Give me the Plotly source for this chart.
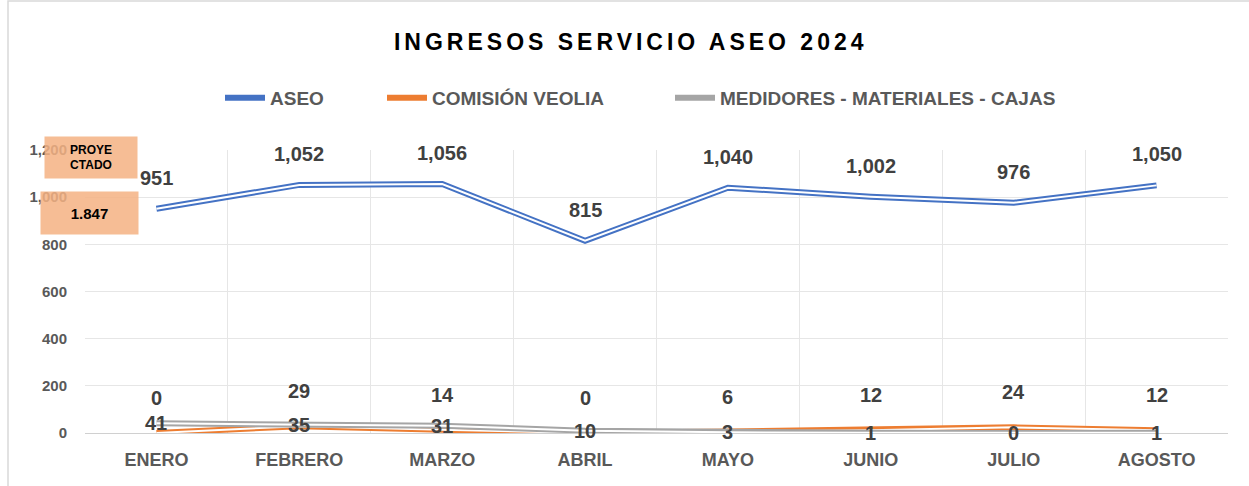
import plotly.graph_objects as go

months = ["ENERO", "FEBRERO", "MARZO", "ABRIL", "MAYO", "JUNIO", "JULIO", "AGOSTO"]
aseo = [951, 1052, 1056, 815, 1040, 1002, 976, 1050]
comision = [0, 29, 14, 0, 6, 12, 24, 12]
medidores = [41, 35, 31, 10, 3, 1, 0, 1]
y_ticks = [0, 200, 400, 600, 800, 1000, 1200]

series = [
    ("ASEO", aseo, "#4472C4", 31, "legend", 220),
    ("COMISIÓN VEOLIA", comision, "#ED7D31", 35, "legend2", 382),
    ("MEDIDORES - MATERIALES - CAJAS", medidores, "#A5A5A5", 0, "legend3", 670),
]

FONT = "Liberation Sans, Arial, sans-serif"
PL, PR, PT, PB = 85, 21, 150, 53
W, H = 1249, 486
pw = W - PL - PR
ph = H - PT - PB

fig = go.Figure()
for name, vals, color, _, lg, _ in series:
    fig.add_trace(go.Scatter(x=months, y=vals, name=name, mode="lines", legend=lg,
                             line=dict(color=color, width=6), legendgroup=name))
    fig.add_trace(go.Scatter(x=months, y=vals, mode="lines", showlegend=False,
                             hoverinfo="skip", line=dict(color="white", width=2),
                             legendgroup=name, legend=lg))

annotations = []
for name, vals, color, shift, _, _ in series:
    for m, v in zip(months, vals):
        annotations.append(dict(x=m, y=v, text=f"{v:,}", showarrow=False, yshift=shift,
                                font=dict(family=FONT, size=20, color="#404040", weight="bold")))

annotations.append(dict(xref="paper", yref="paper", x=0.005, y=0.975, xanchor="center", yanchor="middle",
                        text="PROYE<br>CTADO", showarrow=False, bgcolor="rgba(244,177,131,0.85)",
                        width=92, height=41, borderpad=0,
                        font=dict(family=FONT, size=12, color="black", weight="bold")))
annotations.append(dict(xref="paper", yref="paper", x=0.004, y=0.777, xanchor="center", yanchor="middle",
                        text="1.847", showarrow=False, bgcolor="rgba(244,177,131,0.85)",
                        width=97, height=42, borderpad=0,
                        font=dict(family=FONT, size=15, color="black", weight="bold")))

legend_font = dict(family=FONT, size=19, color="#595959", weight="bold")
legends = {}
for name, _, _, _, lg, px in series:
    legends[lg] = dict(orientation="h", x=(px - PL) / pw, xanchor="left",
                       y=(H - PB - 98) / ph, yanchor="middle", font=legend_font,
                       itemwidth=40, bgcolor="rgba(0,0,0,0)")

fig.update_layout(
    width=W, height=H,
    margin=dict(l=PL, r=PR, t=PT, b=PB),
    paper_bgcolor="white", plot_bgcolor="white",
    title=dict(text="INGRESOS SERVICIO ASEO 2024", x=0.505, xanchor="center",
               y=1 - 42 / H, yref="container", yanchor="middle",
               font=dict(family=FONT, size=23, color="black", weight="bold")),
    annotations=annotations,
    showlegend=True,
    **legends,
)
fig.update_xaxes(type="category", range=[-0.5, 7.5], tickson="boundaries", showgrid=True,
                 gridcolor="#E6E6E6", gridwidth=1, ticks="", showline=False, zeroline=False,
                 ticklabelstandoff=14,
                 tickfont=dict(family=FONT, size=18, color="#595959", weight="bold"))
fig.update_yaxes(range=[0, 1200], tickvals=y_ticks, tickformat=",", showgrid=True,
                 gridcolor="#E6E6E6", gridwidth=1, zeroline=True, zerolinecolor="#D0D0D0",
                 zerolinewidth=1, ticks="", showline=False, ticklabelstandoff=17,
                 tickfont=dict(family=FONT, size=15, color="#595959", weight="bold"))

fig.add_shape(type="rect", xref="paper", yref="paper", x0=(8 - PL) / pw, x1=1.2, y0=-0.3,
              y1=(H - PB - 1) / ph,
              line=dict(color="#D9D9D9", width=1.5), fillcolor="rgba(0,0,0,0)", layer="below")

post = """
document.body.style.margin = '0';
document.body.style.overflow = 'hidden';
var t = document.querySelector('.gtitle');
if (t) { t.style.letterSpacing = '4px'; }
"""
fig.write_html("out.html", post_script=post, config={"displayModeBar": False})
